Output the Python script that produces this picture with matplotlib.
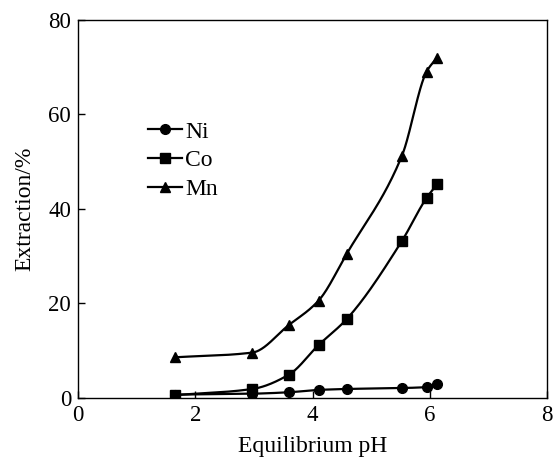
import numpy as np
import matplotlib
matplotlib.use("Agg")
import matplotlib.pyplot as plt

plt.rcParams['font.family'] = ['Liberation Serif', 'DejaVu Serif']
plt.rcParams['mathtext.fontset'] = 'stix'

# equilibrium pH and extraction (%) for each metal
ph = [1.65, 2.97, 3.59, 4.10, 4.58, 5.52, 5.94, 6.12]
ni = [0.7, 0.9, 1.2, 1.7, 1.9, 2.1, 2.3, 2.9]
co = [0.6, 1.9, 4.9, 11.2, 16.7, 33.2, 42.3, 45.2]
mn = [8.6, 9.6, 15.4, 20.6, 30.5, 51.2, 69.0, 72.0]


def smooth(x, y, n=40):
    # monotone cubic (Fritsch-Carlson) through the measured points
    x = np.asarray(x, float)
    y = np.asarray(y, float)
    h = np.diff(x)
    d = np.diff(y) / h
    m = np.zeros_like(y)
    m[0], m[-1] = d[0], d[-1]
    for i in range(1, len(x) - 1):
        if d[i - 1] * d[i] > 0:
            w1 = 2 * h[i] + h[i - 1]
            w2 = h[i] + 2 * h[i - 1]
            m[i] = (w1 + w2) / (w1 / d[i - 1] + w2 / d[i])
    xs, ys = [], []
    for i in range(len(x) - 1):
        t = np.linspace(0, 1, n)
        h00 = 2 * t**3 - 3 * t**2 + 1
        h10 = t**3 - 2 * t**2 + t
        h01 = -2 * t**3 + 3 * t**2
        h11 = t**3 - t**2
        xs.append(x[i] + t * h[i])
        ys.append(h00 * y[i] + h10 * h[i] * m[i] + h01 * y[i + 1] + h11 * h[i] * m[i + 1])
    return np.concatenate(xs), np.concatenate(ys)


fig = plt.figure(figsize=(5.54, 4.59), dpi=100)
ax = fig.add_axes([0.141, 0.133, 0.847, 0.824])

for vals, mk, lab in [(ni, 'o', 'Ni'), (co, 's', 'Co'), (mn, '^', 'Mn')]:
    sx, sy = smooth(ph, vals)
    ax.plot(sx, sy, color='black', lw=1.6)
    ax.plot(ph, vals, linestyle='none', marker=mk, color='black', markersize=7)
    ax.plot([], [], color='black', lw=1.6, marker=mk, markersize=7, label=lab)

ax.set_xlim(0, 8)
ax.set_ylim(0, 80)
ax.set_xticks([0, 2, 4, 6, 8])
ax.set_yticks([0, 20, 40, 60, 80])
ax.tick_params(direction='in', length=5, width=1, labelsize=16.5, pad=5)
for s in ax.spines.values():
    s.set_linewidth(1)
ax.set_xlabel('Equilibrium pH', fontsize=17, labelpad=7)
ax.set_ylabel('Extraction/%', fontsize=17, labelpad=9)

ax.legend(loc='center left', bbox_to_anchor=(0.148, 0.628), frameon=False,
          fontsize=17, handlelength=1.45, handletextpad=0.15, labelspacing=0.3,
          borderaxespad=0, borderpad=0)

fig.savefig('out.png', dpi=100)
